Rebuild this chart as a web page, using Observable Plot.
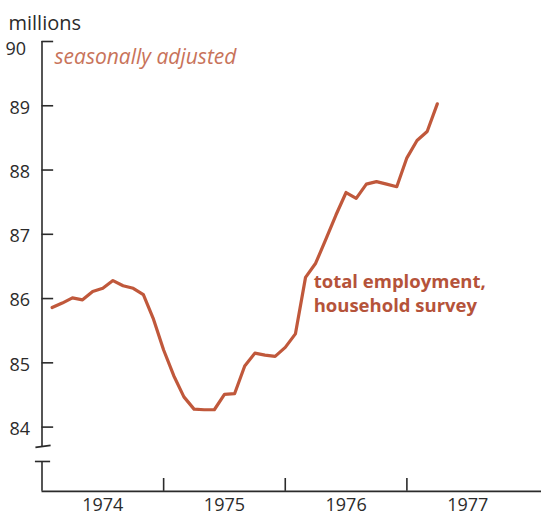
<!DOCTYPE html>
<html>
<head>
<meta charset="utf-8">
<script src="https://cdn.jsdelivr.net/npm/d3@7"></script>
<script src="https://cdn.jsdelivr.net/npm/@observablehq/plot@0.6"></script>
<style>
  html, body { margin: 0; padding: 0; background: #fff; }
  #chart svg { display: block; }
</style>
</head>
<body>
<div id="chart"></div>
<script>
// ---- data ----
const months = [
  "1974-01","1974-02","1974-03","1974-04","1974-05","1974-06","1974-07","1974-08","1974-09","1974-10","1974-11","1974-12",
  "1975-01","1975-02","1975-03","1975-04","1975-05","1975-06","1975-07","1975-08","1975-09","1975-10","1975-11","1975-12",
  "1976-01","1976-02","1976-03","1976-04","1976-05","1976-06","1976-07","1976-08","1976-09","1976-10","1976-11","1976-12",
  "1977-01","1977-02","1977-03"
];
const employment = [
  85.86, 85.93, 86.01, 85.98, 86.11, 86.16, 86.28, 86.20, 86.16, 86.06, 85.68, 85.20,
  84.80, 84.47, 84.28, 84.27, 84.27, 84.51, 84.52, 84.95, 85.15, 85.12, 85.10, 85.24,
  85.45, 86.33, 86.55, 86.92, 87.30, 87.65, 87.56, 87.78, 87.82, 87.78, 87.74, 88.19,
  88.46, 88.60, 89.03
];
const yTicks = [84, 85, 86, 87, 88, 89, 90];
const yTickLabels = ["84", "85", "86", "87", "88", "89", "90"];
const years = [1974, 1975, 1976, 1977];
const yearLabels = ["1974", "1975", "1976", "1977"];
const unitLabel = "millions";
const noteLabel = "seasonally adjusted";
const seriesLabel1 = "total employment,";
const seriesLabel2 = "household survey";

// ---- helpers ----
const monthPos = s => {
  const [yy, mm] = s.split("-").map(Number);
  return (yy - 1974) * 12 + (mm - 1) + 1; // plotted at month end
};
const table = months.map((m, i) => ({m: monthPos(m), v: employment[i]}));

const axisColor = "#2b2b2b";
const lineColor = "#c0583b";
const noteColor = "#c8735a";
const labelColor = "#b5533a";
const font = "'Open Sans', Lato, sans-serif";

const base = 83.0;      // x-axis level below the break
const breakHi = 83.70;  // end of upper y-axis segment
const breakLo = 83.465; // start of lower y-axis segment

const chart = Plot.plot({
  width: 541,
  height: 518,
  style: {fontFamily: font, background: "#fff", overflow: "visible"},
  x: {domain: [0, 49.28], range: [41.5, 541], axis: null},
  y: {domain: [84, 90], range: [426.6, 41], axis: null},
  marks: [
    // y axis upper segment
    Plot.ruleX([0], {y1: breakHi, y2: 90, stroke: axisColor, strokeWidth: 1.6}),
    // y ticks (inward)
    Plot.ruleY(yTicks, {x1: 0, x2: 1.15, stroke: axisColor, strokeWidth: 1.6}),
    // break marks
    Plot.link([0], {x1: -0.65, x2: 0.85, y1: breakHi - 0.015, y2: breakHi + 0.015, stroke: axisColor, strokeWidth: 1.6}),
    Plot.ruleY([breakLo], {x1: -0.65, x2: 0.85, stroke: axisColor, strokeWidth: 1.6}),
    // y axis lower segment
    Plot.ruleX([0], {y1: base, y2: breakLo, stroke: axisColor, strokeWidth: 1.6}),
    // x axis
    Plot.ruleY([base], {x1: 0, x2: 49.28, stroke: axisColor, strokeWidth: 1.6}),
    Plot.ruleX(years.slice(1).map(y => (y - 1974) * 12), {y1: base, y2: base + 0.2, stroke: axisColor, strokeWidth: 1.6}),
    // y labels
    Plot.text(yTicks.slice(0, 6), {x: 0, y: d => d, text: (d, i) => yTickLabels[i], textAnchor: "end", dx: -12, dy: 2, fontSize: 18, fill: axisColor}),
    Plot.text([90], {x: 0, y: d => d, text: () => yTickLabels[6], textAnchor: "end", dx: -16, dy: 8, fontSize: 18, fill: axisColor}),
    // year labels
    Plot.text(years, {x: d => (d - 1974) * 12 + 6, y: base, text: (d, i) => yearLabels[i], lineAnchor: "bottom", dy: 20, fontSize: 18, fill: axisColor}),
    // unit label
    Plot.text([unitLabel], {x: 0, y: 90, text: d => d, textAnchor: "start", lineAnchor: "bottom", dx: -33.5, dy: -12, fontSize: 20, fill: axisColor}),
    // note
    Plot.text([noteLabel], {x: 0, y: 90, text: d => d, textAnchor: "start", lineAnchor: "bottom", dx: 12.5, dy: 22, fontSize: 21, fontStyle: "italic", fill: noteColor}),
    // series label (two lines)
    Plot.text([seriesLabel1], {x: 26.8, y: 85.80, text: d => d, textAnchor: "start", lineAnchor: "bottom", dy: -23, fontSize: 18.5, fontWeight: "bold", fill: labelColor}),
    Plot.text([seriesLabel2], {x: 26.8, y: 85.80, text: d => d, textAnchor: "start", lineAnchor: "bottom", dy: 1, fontSize: 18.5, fontWeight: "bold", fill: labelColor}),
    // the line
    Plot.line(table, {x: "m", y: "v", stroke: lineColor, strokeWidth: 3.2, strokeLinejoin: "round", strokeLinecap: "round"})
  ]
});
document.getElementById("chart").appendChild(chart);
</script>
</body>
</html>
